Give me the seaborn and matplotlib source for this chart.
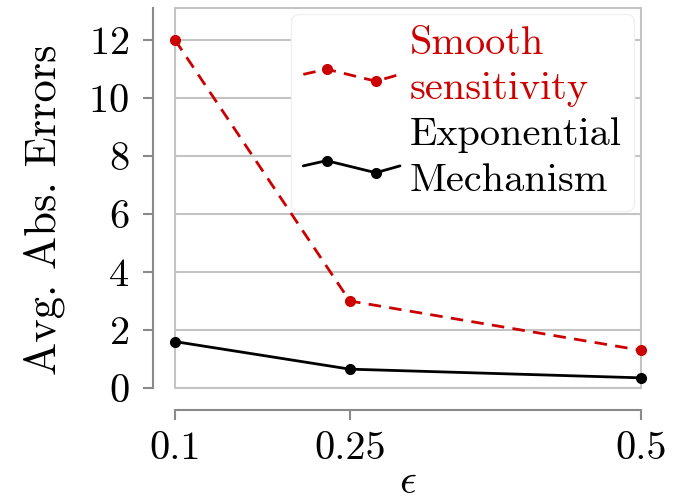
import numpy as np
import pandas as pd
import matplotlib
matplotlib.use("Agg")
import matplotlib.pyplot as plt
import seaborn as sns
from matplotlib.lines import Line2D
from matplotlib.patches import Rectangle
from matplotlib.legend_handler import HandlerLine2D

# ------------------------------------------------------------------
# Data
# ------------------------------------------------------------------
epsilons = [0.1, 0.25, 0.5]
eps_labels = ["0.1", "0.25", "0.5"]
smooth_err = [12.0, 3.0, 1.3]
expo_err = [1.6, 0.65, 0.35]
y_ticks = [0, 2, 4, 6, 8, 10, 12]

RED = "#cc0000"
GRID = "#c4c4c4"
SPINE = "#8a8a8a"
FS = 29

sns.set_style("white")
plt.rcParams["font.family"] = ["cmr10", "DejaVu Serif"]
plt.rcParams["mathtext.fontset"] = "cm"
plt.rcParams["axes.formatter.use_mathtext"] = True
plt.rcParams["text.color"] = "black"
plt.rcParams["axes.labelcolor"] = "black"
plt.rcParams["xtick.labelcolor"] = "black"
plt.rcParams["ytick.labelcolor"] = "black"


class ZigZagHandler(HandlerLine2D):
    """Legend handle drawn as a tiny two-marker sample line."""

    def create_artists(self, legend, orig_handle, xdescent, ydescent,
                       width, height, fontsize, trans):
        x = np.array([0.0, 0.24, 0.75, 1.0]) * width - xdescent
        ymid = (height - ydescent) / 2 - 0.2 * fontsize
        y = ymid + np.array([0.0, 0.13, -0.17, 0.0]) * fontsize
        line = Line2D(x, y)
        self.update_prop(line, orig_handle, legend)
        line.set_markevery([1, 2])
        line.set_transform(trans)
        return [line]


df_smooth = pd.DataFrame({"eps": epsilons, "err": smooth_err})
df_expo = pd.DataFrame({"eps": epsilons, "err": expo_err})

fig = plt.figure(figsize=(6.92, 5.0), dpi=100)
ax = fig.add_axes([175 / 692, 1 - 388 / 500, 466 / 692, 380 / 500])

sns.lineplot(data=df_smooth, x="eps", y="err", ax=ax, color=RED,
             linestyle=(0, (4.5, 3)), linewidth=2.0, marker="o",
             markersize=8, markeredgewidth=0, clip_on=False, zorder=4,
             label="Smooth\nsensitivity")
sns.lineplot(data=df_expo, x="eps", y="err", ax=ax, color="black",
             linewidth=2.0, marker="o", markersize=8, markeredgewidth=0,
             clip_on=False, zorder=4, label="Exponential\nMechanism")

ax.set_xlim(0.1, 0.5)
ax.set_ylim(0, 13.1)
ax.set_xticks(epsilons)
ax.set_xticklabels(eps_labels)
ax.set_yticks(y_ticks)

# light frame + horizontal grid
ax.yaxis.grid(True, color=GRID, linewidth=1.5)
ax.set_axisbelow(True)
ax.add_patch(Rectangle((0, 0), 1, 1, transform=ax.transAxes, fill=False,
                       edgecolor=GRID, linewidth=1.5, zorder=1,
                       clip_on=False))

# offset dark spines with outward ticks
sns.despine(ax=ax, offset=16)
for side in ["left", "bottom"]:
    ax.spines[side].set_color(SPINE)
    ax.spines[side].set_linewidth(1.5)
ax.tick_params(axis="both", direction="out", length=7, width=1.5,
               color=SPINE, labelsize=FS, left=True, bottom=True)
ax.tick_params(axis="x", pad=8)
ax.tick_params(axis="y", pad=10)

ax.set_xlabel(r"$\epsilon$", fontsize=FS + 1)
ax.set_ylabel("Avg. Abs. Errors", fontsize=32)
ax.xaxis.set_label_coords(0.5, -0.20)
ax.yaxis.set_label_coords(-0.236, 0.47)

leg = ax.legend(loc="upper right", bbox_to_anchor=(0.985, 0.985),
                borderaxespad=0, fontsize=FS, handlelength=2.4,
                handletextpad=0.25, labelspacing=0.25, borderpad=0.3,
                frameon=True, facecolor="white", edgecolor="#f0f0f0",
                framealpha=1, handler_map={Line2D: ZigZagHandler()})
for t in leg.get_texts():
    t.set_linespacing(1.35)
leg.get_texts()[0].set_color(RED)
leg.set_zorder(5)

fig.savefig("out.png", dpi=100)
